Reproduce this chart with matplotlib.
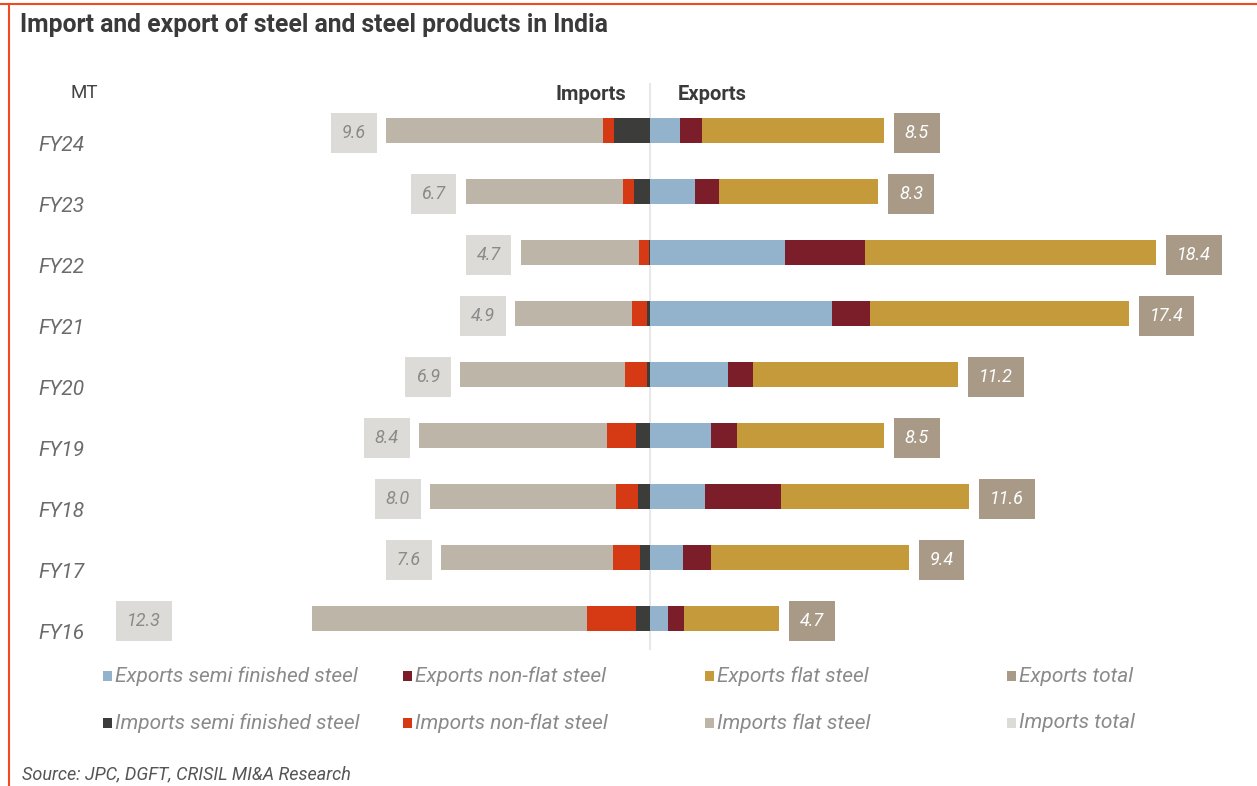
import matplotlib.pyplot as plt
from matplotlib.patches import Rectangle
from matplotlib.lines import Line2D
import matplotlib.transforms as mtransforms

plt.rcParams['font.family'] = ['Roboto', 'DejaVu Sans']

years = ['FY16', 'FY17', 'FY18', 'FY19', 'FY20', 'FY21', 'FY22', 'FY23', 'FY24']

# million tonnes
exp_semi = [0.65, 1.2, 2.0, 2.2, 2.85, 6.6, 4.9, 1.65, 1.1]
exp_nonflat = [0.6, 1.0, 2.75, 0.95, 0.9, 1.4, 2.9, 0.85, 0.8]
exp_flat = [3.45, 7.2, 6.85, 5.35, 7.45, 9.4, 10.6, 5.8, 6.6]
exp_total = [4.7, 9.4, 11.6, 8.5, 11.2, 17.4, 18.4, 8.3, 8.5]

imp_semi = [0.5, 0.35, 0.45, 0.5, 0.1, 0.1, 0.05, 0.6, 1.3]
imp_nonflat = [1.8, 1.0, 0.8, 1.05, 0.8, 0.55, 0.35, 0.4, 0.4]
imp_flat = [10.0, 6.25, 6.75, 6.85, 6.0, 4.25, 4.3, 5.7, 7.9]
imp_total = [12.3, 7.6, 8.0, 8.4, 6.9, 4.9, 4.7, 6.7, 9.6]

c_exp = ['#93b3cd', '#7b1e2a', '#c59a3a']
c_imp = ['#3c3c3a', '#d63a14', '#bdb6a8']
c_exp_tot = '#a89a86'
c_imp_tot = '#dcdbd8'

fig = plt.figure(figsize=(12.57, 7.86), dpi=100)
ax = fig.add_axes([144 / 1257, 137.5 / 786, 1111 / 1257, 548.5 / 786])
lim = max(exp_total)
ax.set_xlim(-lim, 22)
ax.set_ylim(-0.5, len(years) - 0.5)
ax.axis('off')

y = list(range(len(years)))
h = 0.41

# exports to the right
left = [0.0] * len(y)
for vals, col in zip([exp_semi, exp_nonflat, exp_flat], c_exp):
    ax.barh(y, vals, left=left, height=h, color=col, zorder=2)
    left = [a + b for a, b in zip(left, vals)]

# imports to the left
left = [0.0] * len(y)
for vals, col in zip([imp_semi, imp_nonflat, imp_flat], c_imp):
    ax.barh(y, [-v for v in vals], left=left, height=h, color=col, zorder=2)
    left = [a - b for a, b in zip(left, vals)]

ax.axvline(0, ymin=0, ymax=1.03, color='#e8e8e8', lw=1.5, zorder=1, clip_on=False)

box_kw = dict(fontsize=13, style='italic', va='center', textcoords='offset points',
              annotation_clip=False)
for i in y:
    ax.annotate(f'{exp_total[i]:.1f}', xy=(exp_total[i], i), xytext=(15, -2), ha='left',
                color='white', bbox=dict(boxstyle='square,pad=0.6', fc=c_exp_tot, ec='none'),
                **box_kw)
    # the longest import bar gets its label pinned at the left edge
    if imp_total[i] == max(imp_total):
        xy, dx, ha = (-lim, i), 0, 'center'
    else:
        xy, dx, ha = (-imp_total[i], i), -14.5, 'right'
    ax.annotate(f'{imp_total[i]:.1f}', xy=xy, xytext=(dx, -2), ha=ha,
                color='#8a8a8a', bbox=dict(boxstyle='square,pad=0.6', fc=c_imp_tot, ec='none'),
                **box_kw)

# year labels sit a little below each bar
lab_tr = mtransforms.offset_copy(mtransforms.blended_transform_factory(fig.transFigure, ax.transData),
                                 fig=fig, x=0, y=-15, units='dots')
for i, yr in enumerate(years):
    ax.text(38 / 1257, i, yr, transform=lab_tr, ha='left', va='center',
            fontsize=15, style='italic', color='#6b6b6b')

fig.text(70 / 1257, 1 - 93 / 786, 'MT', ha='left', va='center', fontsize=13.5, color='#444444')
fig.text(626 / 1257, 1 - 95 / 786, 'Imports', ha='right', va='center', fontsize=14.5,
         fontweight='bold', color='#3a3a3a')
fig.text(678 / 1257, 1 - 95 / 786, 'Exports', ha='left', va='center', fontsize=14.5,
         fontweight='bold', color='#3a3a3a')

fig.text(20 / 1257, 1 - 25 / 786, 'Import and export of steel and steel products in India',
         ha='left', va='center', fontsize=17.8, fontweight='bold', color='#3a3a3a')

# legend laid out on a fixed grid
leg_names = [['Exports semi finished steel', 'Exports non-flat steel', 'Exports flat steel', 'Exports total'],
             ['Imports semi finished steel', 'Imports non-flat steel', 'Imports flat steel', 'Imports total']]
leg_cols = [c_exp + [c_exp_tot], c_imp + [c_imp_tot]]
col_x = [107, 407, 709, 1011]
row_y = [676, 723]
for r in range(2):
    for c in range(4):
        x0 = col_x[c]
        y0 = row_y[r]
        fig.patches.append(Rectangle(((x0 - 4) / 1257, 1 - (y0 + 5) / 786), 9 / 1257, 10 / 786,
                                     transform=fig.transFigure, fc=leg_cols[r][c], ec='none'))
        fig.text((x0 + 8) / 1257, 1 - y0 / 786, leg_names[r][c], ha='left', va='center',
                 fontsize=15, style='italic', color='#8a8a8a')

fig.text(22 / 1257, 1 - 774 / 786, 'Source: JPC, DGFT, CRISIL MI&A Research', ha='left',
         va='center', fontsize=13, style='italic', color='#555555')

# frame lines on top and left
fig.add_artist(Line2D([0, 1], [1 - 4 / 786] * 2, transform=fig.transFigure, color='#f04a24', lw=1.5))
fig.add_artist(Line2D([9 / 1257] * 2, [0, 1 - 4 / 786], transform=fig.transFigure, color='#f04a24', lw=1.5))

fig.savefig('out.png', dpi=100, facecolor='white')
